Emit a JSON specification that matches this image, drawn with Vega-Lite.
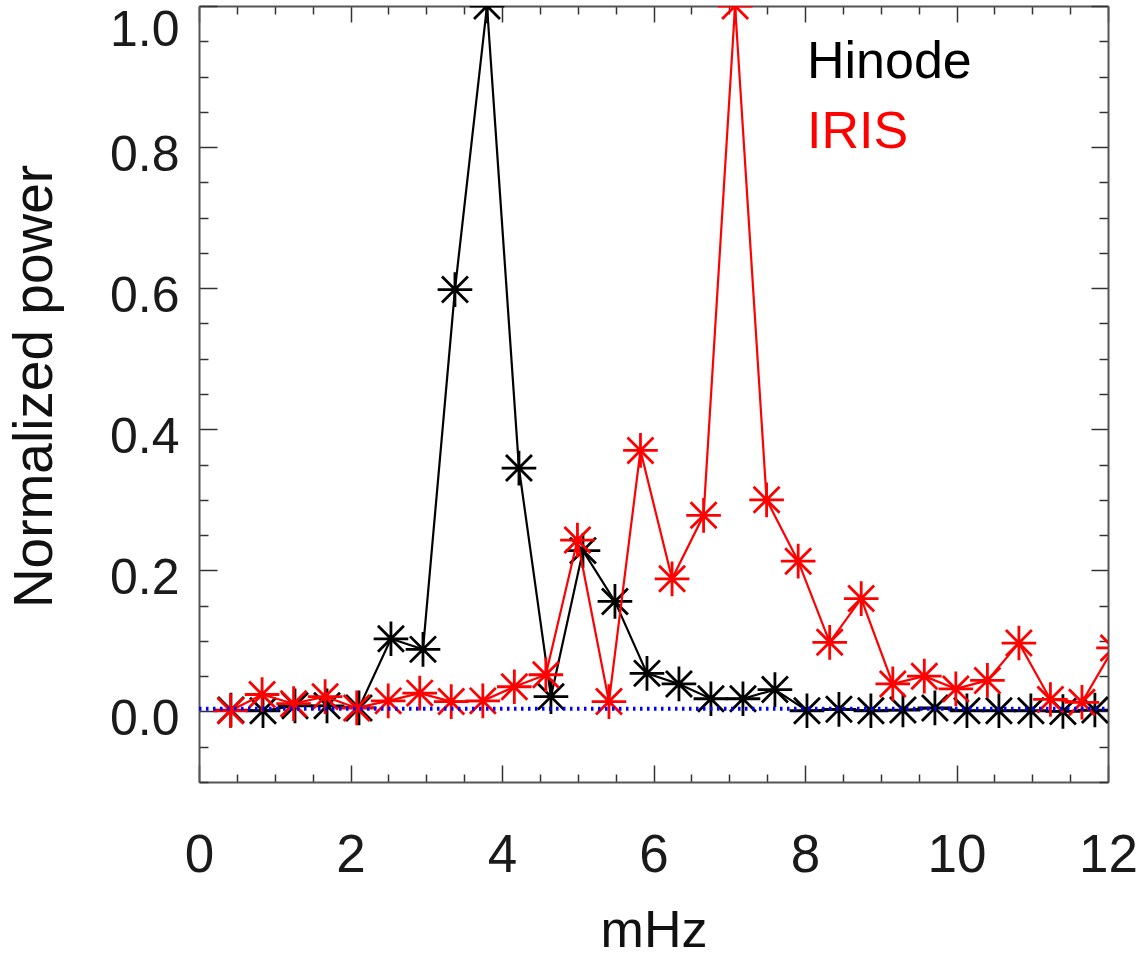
{
  "$schema": "https://vega.github.io/schema/vega-lite/v6.json",
  "width": 909,
  "height": 776,
  "autosize": {"type": "none"},
  "padding": {"left": 199, "top": 6, "right": 37, "bottom": 176},
  "background": "white",
  "config": {"view": {"stroke": null}, "font": "Liberation Sans"},
  "data": {
    "values": [
      {"instrument": "Hinode", "f": 0.422, "p": 0.002},
      {"instrument": "Hinode", "f": 0.845, "p": 0.001},
      {"instrument": "Hinode", "f": 1.267, "p": 0.008},
      {"instrument": "Hinode", "f": 1.690, "p": 0.008},
      {"instrument": "Hinode", "f": 2.112, "p": 0.005},
      {"instrument": "Hinode", "f": 2.534, "p": 0.103},
      {"instrument": "Hinode", "f": 2.957, "p": 0.088},
      {"instrument": "Hinode", "f": 3.379, "p": 0.598},
      {"instrument": "Hinode", "f": 3.802, "p": 1.0},
      {"instrument": "Hinode", "f": 4.224, "p": 0.345},
      {"instrument": "Hinode", "f": 4.646, "p": 0.021},
      {"instrument": "Hinode", "f": 5.069, "p": 0.228},
      {"instrument": "Hinode", "f": 5.491, "p": 0.156},
      {"instrument": "Hinode", "f": 5.914, "p": 0.054},
      {"instrument": "Hinode", "f": 6.336, "p": 0.039},
      {"instrument": "Hinode", "f": 6.758, "p": 0.018},
      {"instrument": "Hinode", "f": 7.181, "p": 0.018},
      {"instrument": "Hinode", "f": 7.603, "p": 0.031},
      {"instrument": "Hinode", "f": 8.026, "p": 0.001},
      {"instrument": "Hinode", "f": 8.448, "p": 0.003},
      {"instrument": "Hinode", "f": 8.870, "p": 0.001},
      {"instrument": "Hinode", "f": 9.293, "p": 0.002},
      {"instrument": "Hinode", "f": 9.715, "p": 0.005},
      {"instrument": "Hinode", "f": 10.138, "p": 0.001},
      {"instrument": "Hinode", "f": 10.560, "p": 0.001},
      {"instrument": "Hinode", "f": 10.982, "p": 0.001},
      {"instrument": "Hinode", "f": 11.405, "p": 0.0},
      {"instrument": "Hinode", "f": 11.827, "p": 0.002},
      {"instrument": "IRIS", "f": 0.416, "p": 0.001},
      {"instrument": "IRIS", "f": 0.833, "p": 0.024},
      {"instrument": "IRIS", "f": 1.249, "p": 0.011},
      {"instrument": "IRIS", "f": 1.665, "p": 0.021},
      {"instrument": "IRIS", "f": 2.082, "p": 0.005},
      {"instrument": "IRIS", "f": 2.498, "p": 0.015},
      {"instrument": "IRIS", "f": 2.914, "p": 0.026},
      {"instrument": "IRIS", "f": 3.330, "p": 0.014},
      {"instrument": "IRIS", "f": 3.747, "p": 0.015},
      {"instrument": "IRIS", "f": 4.163, "p": 0.035},
      {"instrument": "IRIS", "f": 4.579, "p": 0.052},
      {"instrument": "IRIS", "f": 4.996, "p": 0.243},
      {"instrument": "IRIS", "f": 5.412, "p": 0.014},
      {"instrument": "IRIS", "f": 5.828, "p": 0.370},
      {"instrument": "IRIS", "f": 6.245, "p": 0.188},
      {"instrument": "IRIS", "f": 6.661, "p": 0.278},
      {"instrument": "IRIS", "f": 7.077, "p": 1.0},
      {"instrument": "IRIS", "f": 7.493, "p": 0.300},
      {"instrument": "IRIS", "f": 7.910, "p": 0.213},
      {"instrument": "IRIS", "f": 8.326, "p": 0.098},
      {"instrument": "IRIS", "f": 8.742, "p": 0.160},
      {"instrument": "IRIS", "f": 9.159, "p": 0.039},
      {"instrument": "IRIS", "f": 9.575, "p": 0.050},
      {"instrument": "IRIS", "f": 9.991, "p": 0.032},
      {"instrument": "IRIS", "f": 10.408, "p": 0.044},
      {"instrument": "IRIS", "f": 10.824, "p": 0.097},
      {"instrument": "IRIS", "f": 11.240, "p": 0.017},
      {"instrument": "IRIS", "f": 11.656, "p": 0.013},
      {"instrument": "IRIS", "f": 12.073, "p": 0.090}
    ]
  },
  "layer": [
    {
      "transform": [{"filter": "datum.instrument === 'Hinode'"}],
      "mark": {"type": "line", "strokeWidth": 2.2, "clip": true},
      "encoding": {
        "x": {
          "field": "f", "type": "quantitative",
          "scale": {"domain": [0, 12], "nice": false, "zero": false},
          "axis": {
            "orient": "bottom",
            "title": "mHz", "titleFontSize": 52, "titleFont": "Liberation Sans", "titleFontWeight": "normal", "titleColor": "#111",
            "titleBaseline": "alphabetic", "titleY": 164,
            "values": [0,0.5,1,1.5,2,2.5,3,3.5,4,4.5,5,5.5,6,6.5,7,7.5,8,8.5,9,9.5,10,10.5,11,11.5,12],
            "labelExpr": "datum.value % 2 === 0 ? format(datum.value, 'd') : ''",
            "labelFontSize": 53, "labelColor": "#1a1a1a", "labelFlush": false, "labelOverlap": false,
            "labelPadding": 64,
            "tickSize": {"condition": {"test": "datum.value % 2 === 0", "value": -17}, "value": -8},
            "tickColor": "#333", "tickWidth": 1.5,
            "domainColor": "#555", "domainWidth": 2, "grid": false
          }
        },
        "y": {
          "field": "p", "type": "quantitative",
          "scale": {"domain": [-0.1, 1.0], "nice": false, "zero": false},
          "axis": {
            "orient": "left",
            "title": "Normalized power", "titleFontSize": 55, "titleFontWeight": "normal", "titleColor": "#111",
            "titleAngle": 270, "titleBaseline": "alphabetic", "titleAlign": "center",
            "titleX": -148, "titleY": 380,
            "values": [-0.1,-0.05,0,0.05,0.1,0.15,0.2,0.25,0.3,0.35,0.4,0.45,0.5,0.55,0.6,0.65,0.7,0.75,0.8,0.85,0.9,0.95,1.0],
            "labelExpr": "(datum.value >= 0 && abs(datum.value*5 - round(datum.value*5)) < 0.001) ? format(datum.value, '.1f') : ''",
            "labelFontSize": 50, "labelColor": "#1a1a1a", "labelOverlap": false,
            "labelPadding": 38, "labelOffset": 8, "labelFlush": true, "labelFlushOffset": 9,
            "tickSize": {"condition": {"test": "abs(datum.value*5 - round(datum.value*5)) < 0.001 && datum.value >= 0", "value": -18}, "value": -9},
            "tickColor": "#333", "tickWidth": 1.5,
            "domainColor": "#555", "domainWidth": 2, "grid": false
          }
        },
        "color": {
          "field": "instrument", "type": "nominal",
          "scale": {"domain": ["Hinode", "IRIS"], "range": ["#000000", "#ff0000"]},
          "legend": {
            "orient": "none", "legendX": 556, "legendY": 30,
            "title": null, "symbolOpacity": 0, "symbolSize": 0, "symbolStrokeWidth": 0,
            "labelOffset": 0, "labelFontSize": 52, "labelFont": "Liberation Sans", "labelLimit": 500,
            "rowPadding": 18, "padding": 0,
            "encode": {"labels": {"update": {"fill": {"scale": "color", "field": "value"}}}}
          }
        }
      }
    },
    {
      "transform": [{"filter": "datum.instrument === 'Hinode'"}],
      "mark": {"type": "point", "filled": false, "strokeWidth": 2.8, "size": 1200, "opacity": 1, "clip": true,
               "shape": "M-1,0L1,0M0,-1L0,1M-0.75,-0.75L0.75,0.75M-0.75,0.75L0.75,-0.75"},
      "encoding": {
        "x": {"field": "f", "type": "quantitative", "axis": null},
        "y": {"field": "p", "type": "quantitative", "axis": null},
        "color": {"field": "instrument", "type": "nominal"}
      }
    },
    {
      "transform": [{"filter": "datum.instrument === 'IRIS'"}],
      "mark": {"type": "line", "strokeWidth": 2.2, "clip": true},
      "encoding": {
        "x": {"field": "f", "type": "quantitative", "axis": null},
        "y": {"field": "p", "type": "quantitative", "axis": null},
        "color": {"field": "instrument", "type": "nominal"}
      }
    },
    {
      "transform": [{"filter": "datum.instrument === 'IRIS'"}],
      "mark": {"type": "point", "filled": false, "strokeWidth": 2.8, "size": 1200, "opacity": 1, "clip": true,
               "shape": "M-1,0L1,0M0,-1L0,1M-0.75,-0.75L0.75,0.75M-0.75,0.75L0.75,-0.75"},
      "encoding": {
        "x": {"field": "f", "type": "quantitative", "axis": null},
        "y": {"field": "p", "type": "quantitative", "axis": null},
        "color": {"field": "instrument", "type": "nominal"}
      }
    },
    {
      "data": {"values": [{"level": 0.004}]},
      "mark": {"type": "rule", "color": "#0000ff", "strokeWidth": 4, "strokeDash": [2.5, 4.5], "clip": true},
      "encoding": {
        "x": {
          "datum": 0, "type": "quantitative",
          "axis": {
            "orient": "top", "title": null, "labels": false,
            "values": [0,0.5,1,1.5,2,2.5,3,3.5,4,4.5,5,5.5,6,6.5,7,7.5,8,8.5,9,9.5,10,10.5,11,11.5,12],
            "tickSize": {"condition": {"test": "datum.value % 2 === 0", "value": -16}, "value": -8},
            "tickColor": "#333", "tickWidth": 1.5,
            "domainColor": "#555", "domainWidth": 2, "grid": false
          }
        },
        "x2": {"datum": 12},
        "y": {
          "field": "level", "type": "quantitative",
          "axis": {
            "orient": "right", "title": null, "labels": false,
            "values": [-0.1,-0.05,0,0.05,0.1,0.15,0.2,0.25,0.3,0.35,0.4,0.45,0.5,0.55,0.6,0.65,0.7,0.75,0.8,0.85,0.9,0.95,1.0],
            "tickSize": {"condition": {"test": "abs(datum.value*5 - round(datum.value*5)) < 0.001 && datum.value >= 0", "value": -17}, "value": -9},
            "tickColor": "#333", "tickWidth": 1.5,
            "domainColor": "#555", "domainWidth": 2, "grid": false
          }
        }
      }
    }
  ],
  "resolve": {"axis": {"x": "independent", "y": "independent"}}
}
